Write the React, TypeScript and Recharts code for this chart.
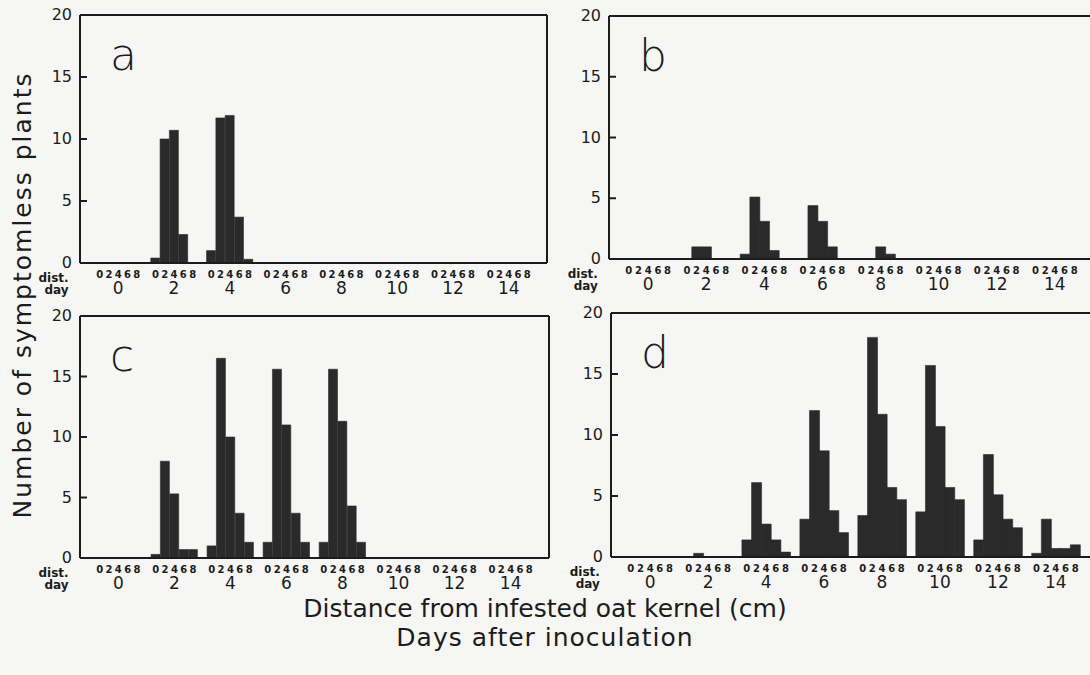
import { BarChart, Bar, XAxis, YAxis, ReferenceLine } from 'recharts';

const days = ['0', '2', '4', '6', '8', '10', '12', '14'];
const distances = ['0', '2', '4', '6', '8'];
const yTicks = [0, 5, 10, 15, 20];

// rows = day after inoculation, columns = distance 0..8 cm
const panelA = [
  [0, 0, 0, 0, 0],
  [0.4, 10.0, 10.7, 2.3, 0],
  [1.0, 11.7, 11.9, 3.7, 0.3],
  [0, 0, 0, 0, 0],
  [0, 0, 0, 0, 0],
  [0, 0, 0, 0, 0],
  [0, 0, 0, 0, 0],
  [0, 0, 0, 0, 0],
];

const panelB = [
  [0, 0, 0, 0, 0],
  [0, 1.0, 1.0, 0, 0],
  [0.4, 5.1, 3.1, 0.7, 0],
  [0, 4.4, 3.1, 1.0, 0],
  [0, 0, 1.0, 0.4, 0],
  [0, 0, 0, 0, 0],
  [0, 0, 0, 0, 0],
  [0, 0, 0, 0, 0],
];

const panelC = [
  [0, 0, 0, 0, 0],
  [0.3, 8.0, 5.3, 0.7, 0.7],
  [1.0, 16.5, 10.0, 3.7, 1.3],
  [1.3, 15.6, 11.0, 3.7, 1.3],
  [1.3, 15.6, 11.3, 4.3, 1.3],
  [0, 0, 0, 0, 0],
  [0, 0, 0, 0, 0],
  [0, 0, 0, 0, 0],
];

const panelD = [
  [0, 0, 0, 0, 0],
  [0, 0.3, 0, 0, 0],
  [1.4, 6.1, 2.7, 1.4, 0.4],
  [3.1, 12.0, 8.7, 3.8, 2.0],
  [3.4, 18.0, 11.7, 5.7, 4.7],
  [3.7, 15.7, 10.7, 5.7, 4.7],
  [1.4, 8.4, 5.1, 3.1, 2.4],
  [0.3, 3.1, 0.7, 0.7, 1.0],
];

const INK = '#1c1c1c';
const BAR = '#2a2a2a';
const FONT = '"DejaVu Sans", sans-serif';

function buildRows(values: number[][]) {
  const rows: { key: string; value: number | null }[] = [];
  days.forEach((day, i) => {
    if (i > 0) rows.push({ key: `gap${i}`, value: null });
    distances.forEach((dist, j) => {
      rows.push({ key: `${day}|${dist}`, value: values[i][j] });
    });
  });
  return rows;
}

function DistTick({ x, y, payload }: any) {
  const key = String(payload.value);
  if (key.startsWith('gap')) return <g />;
  const [day, dist] = key.split('|');
  return (
    <g fontFamily={FONT} fill={INK}>
      {day === '0' && dist === '0' && (
        <>
          <text x={x - 31} y={y + 19} textAnchor="end" fontSize={12} fontWeight="bold">
            dist.
          </text>
          <text x={x - 31} y={y + 31} textAnchor="end" fontSize={12} fontWeight="bold">
            day
          </text>
        </>
      )}
      <text x={x} y={y + 15} textAnchor="middle" fontSize={10} fontWeight="bold">
        {dist}
      </text>
      {dist === '4' && (
        <text x={x} y={y + 31} textAnchor="middle" fontSize={17}>
          {day}
        </text>
      )}
    </g>
  );
}

function CountTick({ x, y, payload }: any) {
  const v = payload.value;
  return (
    <g>
      <text x={x} y={y} dy={5} textAnchor="end" fontSize={16} fontFamily={FONT} fill={INK}>
        {v}
      </text>
      {v > 0 && v < 20 && (
        <line x1={x + 8} x2={x + 15} y1={y} y2={y} stroke={INK} strokeWidth={2} />
      )}
    </g>
  );
}

interface PanelProps {
  letter: string;
  values: number[][];
  plotLeft: number;
  plotTop: number;
  plotRight: number;
  plotBottom: number;
}

function Panel({ letter, values, plotLeft, plotTop, plotRight, plotBottom }: PanelProps) {
  const data = buildRows(values);
  const width = plotRight - plotLeft + 80 + 12;
  const height = plotBottom - plotTop + 15 + 45;
  return (
    <div style={{ position: 'absolute', left: plotLeft - 80, top: plotTop - 15 }}>
      <BarChart
        width={width}
        height={height}
        data={data}
        margin={{ top: 15, right: 12, bottom: 0, left: 40 }}
        barCategoryGap={0}
        barGap={0}
      >
        <XAxis
          dataKey="key"
          interval={0}
          height={45}
          padding={{ left: 15, right: 15 }}
          tickLine={false}
          tickSize={0}
          tickMargin={0}
          tick={<DistTick />}
          axisLine={{ stroke: INK, strokeWidth: 2 }}
        />
        <YAxis
          domain={[0, 20]}
          ticks={yTicks}
          width={40}
          tickLine={false}
          tickSize={0}
          tickMargin={8}
          tick={<CountTick />}
          axisLine={{ stroke: INK, strokeWidth: 2 }}
        />
        <YAxis
          yAxisId="right"
          orientation="right"
          mirror
          domain={[0, 20]}
          ticks={yTicks}
          tickSize={7}
          tick={false}
          tickLine={{ stroke: INK, strokeWidth: 2 }}
          axisLine={{ stroke: INK, strokeWidth: 2 }}
        />
        <ReferenceLine y={20} stroke={INK} strokeWidth={2} />
        <Bar dataKey="value" fill={BAR} stroke={BAR} strokeWidth={0.6} isAnimationActive={false} />
      </BarChart>
      <svg
        width={110}
        height={90}
        style={{ position: 'absolute', left: 100, top: 5, pointerEvents: 'none' }}
      >
        <text x={10} y={65} fontSize={44} fontWeight={300} fontFamily={FONT} fill={INK}>
          {letter}
        </text>
      </svg>
    </div>
  );
}

export default function App() {
  return (
    <div
      style={{
        position: 'absolute',
        left: 0,
        top: 0,
        width: 1090,
        height: 675,
        overflow: 'hidden',
        background: '#f6f6f4',
      }}
    >
      <Panel letter="a" values={panelA} plotLeft={80} plotTop={15} plotRight={547} plotBottom={263} />
      <Panel letter="b" values={panelB} plotLeft={609} plotTop={16} plotRight={1094} plotBottom={259} />
      <Panel letter="c" values={panelC} plotLeft={80} plotTop={316} plotRight={549} plotBottom={558} />
      <Panel letter="d" values={panelD} plotLeft={611} plotTop={313} plotRight={1095} plotBottom={557} />
      <svg
        width={1090}
        height={675}
        style={{ position: 'absolute', left: 0, top: 0, pointerEvents: 'none' }}
        fontFamily={FONT}
        fill={INK}
      >
        <text
          x={31}
          y={295}
          transform="rotate(-90 31 295)"
          textAnchor="middle"
          fontSize={25}
          letterSpacing={2}
        >
          Number of symptomless plants
        </text>
        <text x={545} y={617} textAnchor="middle" fontSize={25}>
          Distance from infested oat kernel (cm)
        </text>
        <text x={545} y={646} textAnchor="middle" fontSize={25} letterSpacing={1}>
          Days after inoculation
        </text>
      </svg>
    </div>
  );
}
